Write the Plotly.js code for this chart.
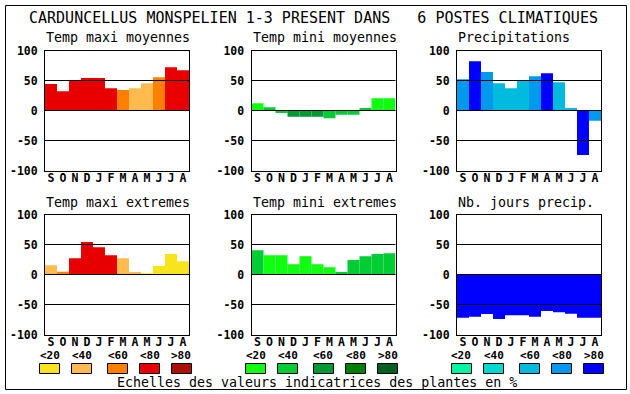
<!DOCTYPE html>
<html><head><meta charset="utf-8">
<script src="https://cdn.plot.ly/plotly-3.0.1.min.js"></script>
<style>body{margin:0;background:#fff}#chart{width:630px;height:394px}</style>
</head><body><div id="chart"></div>
<script>
// ---------- data ----------
const months = ['S','O','N','D','J','F','M','A','M','J','J','A'];
const yTicks = [-100,-50,0,50,100];
const gridValues = [-50,0,50];
const mainTitle = 'CARDUNCELLUS MONSPELIEN 1-3 PRESENT DANS\u00a0\u00a0\u00a06 POSTES CLIMATIQUES';
const panelTitles = ['Temp maxi moyennes','Temp mini moyennes','Precipitations',
                     'Temp maxi extremes','Temp mini extremes','Nb. jours precip.'];
const legendLabels = ['<20','<40','<60','<80','>80'];
const footText = 'Echelles des valeurs indicatrices des plantes en %';

const tempPalette  = ['#f8e41c','#ffbb50','#ff8000','#e80000','#aa1100'];
const greenPalette = ['#10ff10','#00cc33','#009933','#008000','#006020'];
const bluePalette  = ['#00f5a5','#00d8d0','#00bbdd','#0099ee','#0000ff'];

const tempMaxiMoy      = [44, 32, 49, 54, 54, 37, 34, 37, 45.5, 55.5, 72, 67];
const tempMaxiMoyClass = [3, 3, 3, 3, 3, 3, 2, 1, 1, 2, 3, 3];
const tempMiniMoy      = [12, 5.5, -4, -10.5, -10.5, -10.5, -13, -7, -7, 4, 20.5, 20.5];
const tempMiniMoyClass = [0, 1, 1, 2, 2, 2, 1, 1, 1, 1, 0, 0];
const precip           = [52, 82, 64, 45.5, 37, 49, 57, 62, 47, 4, -74, -17];
const precipClass      = [3, 4, 3, 2, 2, 2, 3, 4, 2, 2, 4, 3];
const tempMaxiExt      = [15.5, 4.4, 27, 54, 45.5, 32, 27, 4, 2, 14, 34, 22];
const tempMaxiExtClass = [1, 2, 3, 3, 3, 3, 1, 1, 0, 0, 0, 0];
const tempMiniExt      = [40.5, 32, 32, 17, 30.5, 17, 12, 4, 24, 30.5, 34, 35.5];
const tempMiniExtClass = [1, 0, 0, 0, 0, 0, 0, 1, 1, 1, 1, 1];
const joursPrecip      = [-72, -70.5, -66, -74, -68, -68, -70.5, -61, -63, -65.5, -72, -72];
const joursPrecipClass = [4, 4, 4, 4, 4, 4, 4, 4, 4, 4, 4, 4];

// ---------- layout helpers ----------
const W = 630, H = 394;
const px = p => p / W;
const py = p => 1 - p / H;
const mono = 'DejaVu Sans Mono, monospace';

const panels = [
  {vals: tempMaxiMoy, cls: tempMaxiMoyClass, pal: tempPalette},
  {vals: tempMiniMoy, cls: tempMiniMoyClass, pal: greenPalette},
  {vals: precip,      cls: precipClass,      pal: bluePalette},
  {vals: tempMaxiExt, cls: tempMaxiExtClass, pal: tempPalette},
  {vals: tempMiniExt, cls: tempMiniExtClass, pal: greenPalette},
  {vals: joursPrecip, cls: joursPrecipClass, pal: bluePalette}
];
const colLeft = [45, 251.5, 457];
const plotW = 144;
const rowTop = [50.5, 214.5];
const plotH = 120;

const data = [];
const layout = {
  width: W, height: H, margin: {l:0,r:0,t:0,b:0},
  paper_bgcolor: '#fff', plot_bgcolor: '#fff',
  showlegend: false, shapes: [], annotations: [],
  font: {family: mono, color: '#000'}
};
const idx = months.map((m, i) => i);

panels.forEach((p, k) => {
  const n = k + 1;
  const xa = 'x' + (n === 1 ? '' : n), ya = 'y' + (n === 1 ? '' : n);
  const col = k % 3, row = Math.floor(k / 3);
  data.push({
    type: 'bar', x: idx, y: p.vals, xaxis: xa, yaxis: ya, width: 1,
    marker: {color: p.cls.map(c => p.pal[c]), line: {width: 0}},
    hoverinfo: 'skip'
  });
  const L = colLeft[col], T = rowTop[row];
  layout['xaxis' + (n === 1 ? '' : n)] = {
    domain: [px(L), px(L + plotW)], anchor: ya, range: [-0.5, 11.5],
    tickmode: 'array', tickvals: idx, ticktext: months,
    showgrid: false, zeroline: false, showline: true, mirror: true,
    linecolor: '#000', linewidth: 1, ticks: '', ticklabelstandoff: -3,
    tickfont: {family: mono, size: 11.5, weight: 'bold', color: '#000'},
    fixedrange: true
  };
  layout['yaxis' + (n === 1 ? '' : n)] = {
    domain: [py(T + plotH), py(T)], anchor: xa, range: [-100, 100],
    tickmode: 'array', tickvals: yTicks, ticktext: yTicks.map(String),
    showgrid: false, zeroline: false, showline: true, mirror: true,
    linecolor: '#000', linewidth: 1, ticks: '', ticklabelstandoff: 4,
    tickfont: {family: mono, size: 11.5, weight: 'bold', color: '#000'},
    fixedrange: true
  };
  gridValues.forEach(v => layout.shapes.push({
    type: 'line', xref: xa + ' domain', yref: ya, x0: 0, x1: 1, y0: v, y1: v,
    layer: 'above', line: {color: '#000', width: 1}
  }));
  layout.annotations.push({
    text: panelTitles[k], xref: 'paper', yref: 'paper',
    x: px(L - 1), y: py(T - 12.5), xanchor: 'left', yanchor: 'middle',
    showarrow: false, font: {family: mono, size: 13.3, color: '#000'}
  });
});

// main title
layout.annotations.push({
  text: mainTitle, xref: 'paper', yref: 'paper', x: px(313.5), y: py(18),
  xanchor: 'center', yanchor: 'middle', showarrow: false,
  font: {family: mono, size: 15, color: '#000'}
});
// legend scales
const groupStart = [39, 245, 451.3];
const boxOffsets = [0, 32, 68, 100, 132];
const palettes = [tempPalette, greenPalette, bluePalette];
groupStart.forEach((g, gi) => {
  boxOffsets.forEach((o, j) => {
    const x0 = Math.round(g + o) + 0.5;
    layout.shapes.push({
      type: 'rect', xref: 'paper', yref: 'paper',
      x0: px(x0), x1: px(x0 + 20), y0: py(373.5), y1: py(363.5),
      fillcolor: palettes[gi][j], line: {color: '#000', width: 1}
    });
    layout.annotations.push({
      text: legendLabels[j].replace('<', '&lt;').replace('>', '&gt;'),
      xref: 'paper', yref: 'paper', x: px(x0 + 10), y: py(355),
      xanchor: 'center', yanchor: 'middle', showarrow: false,
      font: {family: mono, size: 11, weight: 'bold', color: '#000'}
    });
  });
});
layout.annotations.push({
  text: footText, xref: 'paper', yref: 'paper', x: px(316.5), y: py(382),
  xanchor: 'center', yanchor: 'middle', showarrow: false,
  font: {family: mono, size: 13.3, color: '#000'}
});
// outer frame
layout.shapes.push({
  type: 'rect', xref: 'paper', yref: 'paper',
  x0: px(5.5), x1: px(626.5), y0: py(389.5), y1: py(5.5),
  line: {color: '#000', width: 1}, fillcolor: 'rgba(0,0,0,0)'
});

Plotly.newPlot('chart', data, layout, {displayModeBar: false, staticPlot: true});
</script>
</body></html>
